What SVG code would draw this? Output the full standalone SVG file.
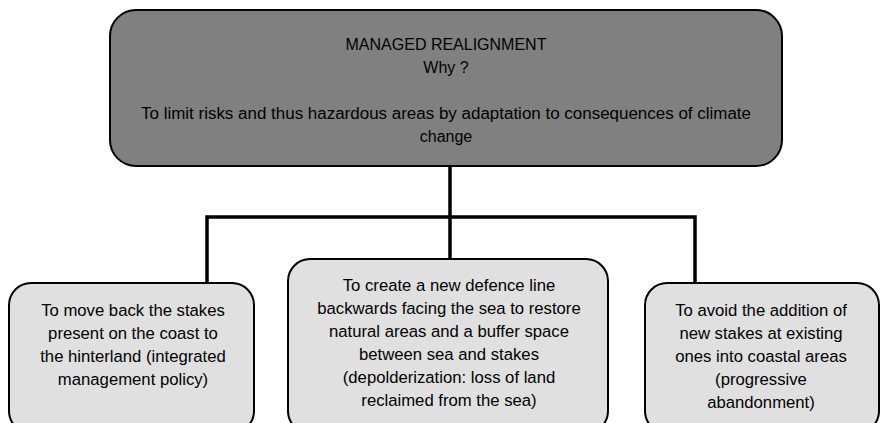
<svg xmlns="http://www.w3.org/2000/svg" width="881" height="423" viewBox="0 0 881 423">
<style>
.box{stroke:#000;stroke-width:2}
.top{fill:#808081}
.child{fill:#e0e0e0}
text{font-family:"Liberation Sans",Arial,sans-serif;fill:#000;text-anchor:middle}
.t1{font-size:16px}
.t2{font-size:16.7px}
.conn{stroke:#000;stroke-width:3.5;fill:none}
</style>
<rect width="881" height="423" fill="#fff"/>
<g id="connectors">
<line class="conn" x1="450" y1="166" x2="450" y2="259"/>
<polyline class="conn" points="207,284 207,217 695,217 695,284"/>
</g>
<g id="top">
<rect class="box top" x="110" y="10" width="672" height="156" rx="26"/>
<text class="t1" x="446" y="50">MANAGED REALIGNMENT</text>
<text class="t1" x="446" y="73">Why ?</text>
<text class="t1" x="446" y="119" textLength="610" lengthAdjust="spacingAndGlyphs">To limit risks and thus hazardous areas by adaptation to consequences of climate</text>
<text class="t1" x="446" y="142">change</text>
</g>
<g id="left">
<rect class="box child" x="9" y="283" width="245" height="150" rx="22"/>
<text class="t2" x="133" y="316">To move back the stakes</text>
<text class="t2" x="133" y="339">present on the coast to</text>
<text class="t2" x="133" y="362">the hinterland (integrated</text>
<text class="t2" x="133" y="385">management policy)</text>
</g>
<g id="middle">
<rect class="box child" x="288" y="259" width="320" height="174" rx="22"/>
<text class="t2" x="449" y="291">To create a new defence line</text>
<text class="t2" x="449" y="314">backwards facing the sea to restore</text>
<text class="t2" x="449" y="337">natural areas and a buffer space</text>
<text class="t2" x="449" y="360">between sea and stakes</text>
<text class="t2" x="449" y="383">(depolderization: loss of land</text>
<text class="t2" x="449" y="406">reclaimed from the sea)</text>
</g>
<g id="right">
<rect class="box child" x="645" y="283" width="234" height="150" rx="22"/>
<text class="t2" x="761" y="316">To avoid the addition of</text>
<text class="t2" x="761" y="339">new stakes at existing</text>
<text class="t2" x="761" y="362">ones into coastal areas</text>
<text class="t2" x="761" y="385">(progressive</text>
<text class="t2" x="761" y="408">abandonment)</text>
</g>
</svg>
